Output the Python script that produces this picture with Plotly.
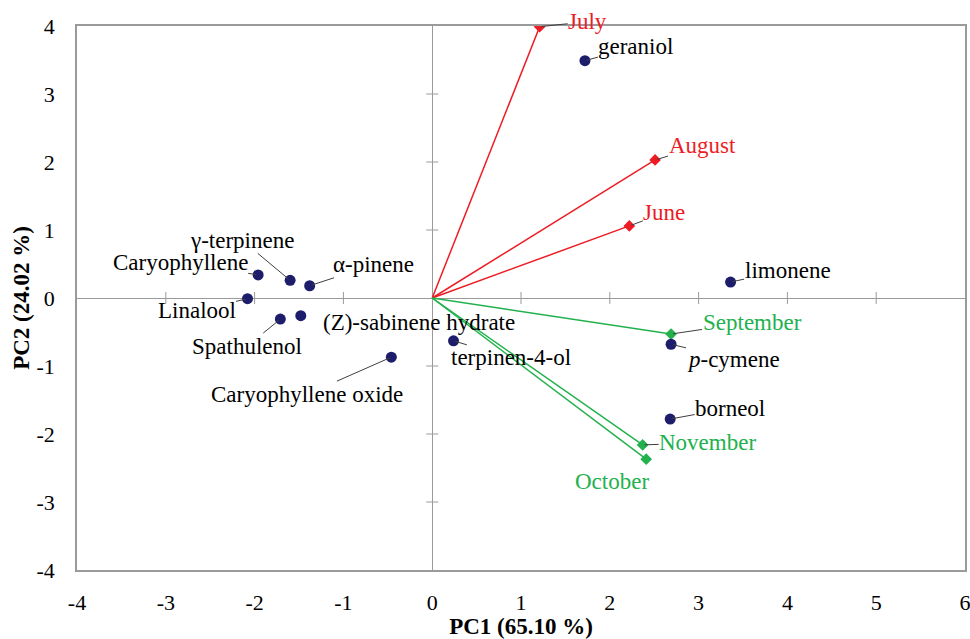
import plotly.graph_objects as go

# --- data ---
compounds = ["geraniol", "limonene", "<i>p</i>-cymene", "borneol", "terpinen-4-ol",
             "Caryophyllene oxide", "(Z)-sabinene hydrate", "Spathulenol", "Linalool",
             "Caryophyllene", "γ-terpinene", "α-pinene"]
comp_pc1 = [1.72, 3.36, 2.69, 2.68, 0.24, -0.46, -1.48, -1.71, -2.08, -1.96, -1.60, -1.38]
comp_pc2 = [3.49, 0.235, -0.68, -1.78, -0.63, -0.87, -0.26, -0.31, -0.01, 0.34, 0.26, 0.18]

months = ["July", "August", "June", "September", "November", "October"]
month_pc1 = [1.21, 2.51, 2.22, 2.69, 2.37, 2.41]
month_pc2 = [3.99, 2.03, 1.06, -0.53, -2.16, -2.37]
month_group = ["summer", "summer", "summer", "autumn", "autumn", "autumn"]

x_ticks = [-4, -3, -2, -1, 0, 1, 2, 3, 4, 5, 6]
x_tick_text = ["-4", "-3", "-2", "-1", "0", "1", "2", "3", "4", "5", "6"]
y_ticks = [-4, -3, -2, -1, 0, 1, 2, 3, 4]
y_tick_text = ["-4", "-3", "-2", "-1", "0", "1", "2", "3", "4"]

# --- styles ---
RED = "#ED1C24"
GREEN = "#22B14C"
NAVY = "#1D1D6B"
AXIS = "#9a9a9a"
LEADER = "#404040"
FONT = "Liberation Serif"
LAB = 23

# label offsets (pixels, text centre relative to point) and whether a leader is drawn
comp_lab = {
    "geraniol": (51, -14, True),
    "limonene": (57, -12, True),
    "<i>p</i>-cymene": (62, 15, True),
    "borneol": (60, -11, True),
    "terpinen-4-ol": (57, 17, True),
    "Caryophyllene oxide": (-84, 37, True),
    "(Z)-sabinene hydrate": (118, 7, False),
    "Spathulenol": (-33, 27, True),
    "Linalool": (-51, 12, True),
    "Caryophyllene": (-78, -12, True),
    "γ-terpinene": (-48, -40, True),
    "α-pinene": (64, -21, True),
}
month_lab = {
    "July": (48, -5, True),
    "August": (47, -14, True),
    "June": (35, -13, True),
    "September": (81, -12, True),
    "November": (65, -2, True),
    "October": (-34, 22, False),
}

fig = go.Figure()

# vectors from origin to each month
for m, x, y, g in zip(months, month_pc1, month_pc2, month_group):
    col = RED if g == "summer" else GREEN
    fig.add_trace(go.Scatter(x=[0, x], y=[0, y], mode="lines",
                             line=dict(color=col, width=1.5),
                             hoverinfo="skip", showlegend=False))

fig.add_trace(go.Scatter(
    x=month_pc1, y=month_pc2, mode="markers",
    marker=dict(symbol="diamond", size=9,
                color=[RED if g == "summer" else GREEN for g in month_group]),
    text=months, showlegend=False))

fig.add_trace(go.Scatter(
    x=comp_pc1, y=comp_pc2, mode="markers",
    marker=dict(symbol="circle", size=11, color=NAVY),
    text=compounds, showlegend=False))

annots = []
def add_label(name, x, y, spec, col):
    dx, dy, arrow = spec
    if arrow:
        annots.append(dict(x=x, y=y, xref="x", yref="y", text=name, showarrow=True,
                           ax=dx, ay=dy, arrowhead=0, arrowwidth=1, arrowcolor=LEADER,
                           standoff=2, borderpad=0,
                           font=dict(family=FONT, size=LAB, color=col)))
    else:
        annots.append(dict(x=x, y=y, xref="x", yref="y", text=name, showarrow=False,
                           xshift=dx, yshift=-dy,
                           font=dict(family=FONT, size=LAB, color=col)))

for name, x, y in zip(compounds, comp_pc1, comp_pc2):
    add_label(name, x, y, comp_lab[name], "black")
for m, x, y, g in zip(months, month_pc1, month_pc2, month_group):
    add_label(m, x, y, month_lab[m], RED if g == "summer" else GREEN)

# cross ticks on the zero lines
shapes = []
for t in x_ticks:
    if t in (x_ticks[0], x_ticks[-1], 0):
        continue
    shapes.append(dict(type="line", xref="x", yref="y", x0=t, x1=t,
                       ysizemode="pixel", yanchor=0, y0=-6, y1=6,
                       line=dict(color=AXIS, width=1)))
for t in y_ticks:
    if t in (y_ticks[0], y_ticks[-1], 0):
        continue
    shapes.append(dict(type="line", xref="x", yref="y", y0=t, y1=t,
                       xsizemode="pixel", xanchor=0, x0=-6, x1=6,
                       line=dict(color=AXIS, width=1)))

fig.update_layout(
    width=970, height=639,
    margin=dict(l=77, r=5, t=26, b=69),
    plot_bgcolor="white", paper_bgcolor="white",
    font=dict(family=FONT, size=22, color="black"),
    annotations=annots, shapes=shapes,
    xaxis=dict(range=[-4, 6], tickvals=x_ticks, ticktext=x_tick_text, showgrid=False,
               zeroline=True, zerolinecolor=AXIS, zerolinewidth=1,
               showline=True, linecolor=AXIS, linewidth=1.5, mirror=True,
               ticks="", ticklabelstandoff=12, automargin=False,
               ticklabeloverflow="allow",
               tickfont=dict(family=FONT, size=22),
               title=dict(text="<b>PC1 (65.10 %)</b>", standoff=0,
                          font=dict(family=FONT, size=23))),
    yaxis=dict(range=[-4, 4], tickvals=y_ticks, ticktext=y_tick_text, showgrid=False,
               zeroline=True, zerolinecolor=AXIS, zerolinewidth=1,
               showline=True, linecolor=AXIS, linewidth=1.5, mirror=True,
               ticks="", ticklabelstandoff=16, automargin=False,
               ticklabeloverflow="allow",
               tickfont=dict(family=FONT, size=22),
               title=dict(text="<b>PC2 (24.02 %)</b>", standoff=0,
                          font=dict(family=FONT, size=23))),
)

fig.write_html("out.html")
